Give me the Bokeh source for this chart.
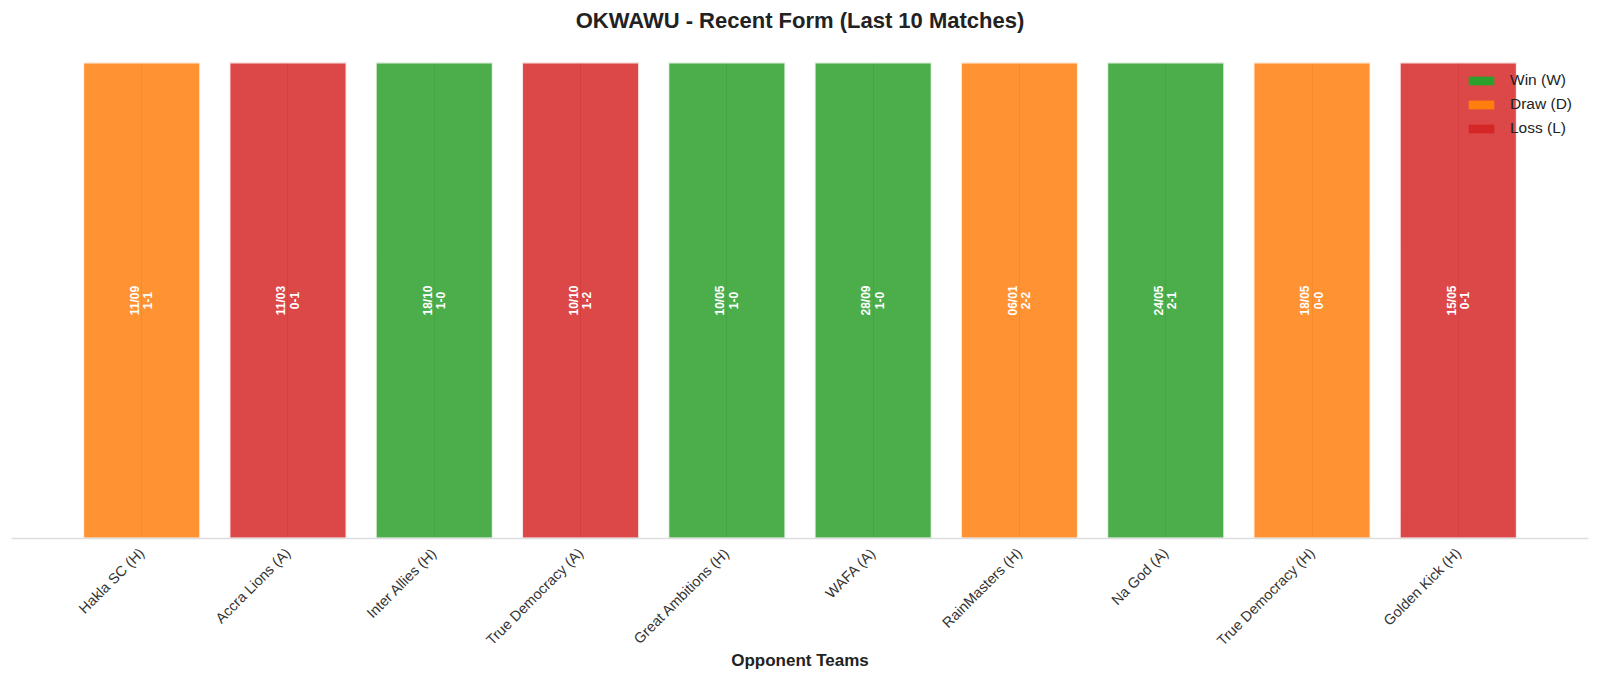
import math
from bokeh.plotting import figure
from bokeh.models import (ColumnDataSource, Range1d, FixedTicker, Legend, LegendItem,
                          CDSView, GroupFilter, Title)
from bokeh.core.properties import value
from bokeh.embed import file_html
from bokeh.resources import INLINE

# last 10 matches (oldest on the left as in the original chart)
opponents = ["Hakla SC (H)", "Accra Lions (A)", "Inter Allies (H)", "True Democracy (A)",
             "Great Ambitions (H)", "WAFA (A)", "RainMasters (H)", "Na God (A)",
             "True Democracy (H)", "Golden Kick (H)"]
dates = ["11/09", "11/03", "18/10", "10/10", "10/05", "28/09", "06/01", "24/05", "18/05", "15/05"]
scores = ["1-1", "0-1", "1-0", "1-2", "1-0", "1-0", "2-2", "2-1", "0-0", "0-1"]
results = ["D", "L", "W", "L", "W", "W", "D", "W", "D", "L"]

result_colors = {"W": "#2ca02c", "D": "#ff7f0e", "L": "#d62728"}
result_names = {"W": "Win (W)", "D": "Draw (D)", "L": "Loss (L)"}

FONT = "Liberation Sans"

idx = list(range(len(opponents)))
src = ColumnDataSource(data=dict(
    x=idx,
    top=[1] * len(idx),
    result=results,
    color=[result_colors[r] for r in results],
    label=[d + "\n" + s for d, s in zip(dates, scores)],
    mid=[0.5] * len(idx),
))

p = figure(frame_width=1577, frame_height=476,
           x_range=Range1d(-0.89, len(idx) - 1 + 0.89),
           y_range=Range1d(0, 1),
           y_axis_location=None,
           output_backend="svg", toolbar_location=None,
           min_border_left=11, min_border_right=12,
           min_border_top=61, min_border_bottom=142,
           title="OKWAWU - Recent Form (Last 10 Matches)")
p.outline_line_color = None

# empty spacer panel between the plot area and the title (title is stacked outside it)
p.add_layout(Title(text=" ", text_font_size="1px", standoff=22), "above")

# title
p.title.align = "center"
p.title.text_font = FONT
p.title.text_font_size = "22px"
p.title.text_font_style = "bold"
p.title.text_color = "#222222"
p.title.standoff = 10

# grid: only the vertical lines at the bar centres
p.ygrid.grid_line_color = None
p.xgrid.grid_line_color = "#c8c8c8"
p.xgrid.grid_line_width = 1

# x axis
p.xaxis.ticker = FixedTicker(ticks=idx)
p.xaxis.major_label_overrides = {i: name for i, name in enumerate(opponents)}
p.xaxis.major_label_orientation = math.pi / 4
p.xaxis.major_label_text_font = FONT
p.xaxis.major_label_text_font_size = "14.5px"
p.xaxis.major_label_text_color = "#333333"
p.xaxis.major_label_standoff = 6
p.xaxis.major_tick_line_color = None
p.xaxis.minor_tick_line_color = None
p.xaxis.axis_line_color = "#dddddd"
p.xaxis.axis_line_width = 1.5
p.xaxis.axis_label = "Opponent Teams"
p.xaxis.axis_label_text_font = FONT
p.xaxis.axis_label_text_font_size = "17px"
p.xaxis.axis_label_text_font_style = "bold"
p.xaxis.axis_label_text_color = "#222222"
p.xaxis.axis_label_standoff = -6

# bars
p.vbar(x="x", top="top", bottom=0, width=0.8, source=src,
       fill_color="color", fill_alpha=0.85,
       line_color="white", line_alpha=0.85, line_width=2)

# date / score inside each bar
p.text(x="x", y="mid", text="label", source=src, angle=math.pi / 2,
       text_align="center", text_baseline="middle",
       text_font=value(FONT), text_font_size="12px", text_font_style="bold",
       text_color="white", text_line_height=0.95)

# legend: zero-width full-colour bars so the patches are solid
items = []
for key in ["W", "D", "L"]:
    view = CDSView(filter=GroupFilter(column_name="result", group=key))
    r = p.vbar(x="x", top="top", width=0, source=src, view=view,
               fill_color=result_colors[key], fill_alpha=1.0, line_color=None)
    items.append(LegendItem(label=result_names[key], renderers=[r]))

legend = Legend(items=items, location=(1454, 401))
legend.background_fill_alpha = 0
legend.border_line_color = None
legend.padding = 0
legend.margin = 0
legend.spacing = 6
legend.glyph_width = 32
legend.glyph_height = 11
legend.label_height = 11
legend.label_standoff = 13
legend.label_text_font = FONT
legend.label_text_font_size = "15.5px"
legend.label_text_color = "#222222"
p.add_layout(legend)

open("out.html", "w").write(file_html(p, INLINE))
